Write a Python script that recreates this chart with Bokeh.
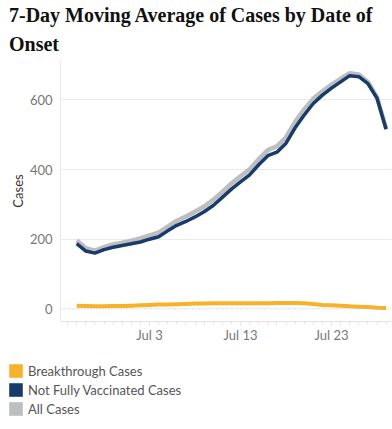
from datetime import datetime, timedelta
from bokeh.plotting import figure
from bokeh.models import (ColumnDataSource, Range1d, FixedTicker, DatetimeTickFormatter,
                          Span, Legend, LegendItem, Title)
from bokeh.embed import file_html
from bokeh.resources import INLINE

# ---- data ----
start_date = datetime(2021, 6, 25)
n_days = 35
dates = [start_date + timedelta(days=i) for i in range(n_days)]
not_fully_vaccinated = [187, 166, 160, 170, 177, 182, 187, 192, 200, 207, 224, 240, 251, 264, 279,
                        297, 320, 344, 365, 385, 414, 440, 450, 476, 520, 557, 590, 614, 634, 652,
                        670, 667, 647, 605, 516]
breakthrough = [9, 8, 7, 7, 8, 8, 9, 10, 11, 12, 12, 13, 14, 15, 15, 16, 16, 16, 16, 16, 16, 16,
                17, 17, 17, 16, 14, 11, 10, 9, 7, 6, 5, 3, 2]
all_cases = [196, 174, 167, 177, 185, 190, 196, 202, 211, 219, 236, 253, 265, 279, 294, 313, 336,
             360, 381, 401, 430, 456, 467, 493, 537, 573, 604, 625, 644, 661, 677, 673, 652, 608, 518]
y_ticks = [0, 200, 400, 600]
x_tick_dates = [datetime(2021, 7, 3), datetime(2021, 7, 13), datetime(2021, 7, 23)]
legend_labels = ["Breakthrough Cases", "Not Fully Vaccinated Cases", "All Cases"]

YELLOW = "#F7B22B"
NAVY = "#173C6B"
GRAY = "#BDBEC0"

src = ColumnDataSource(dict(date=dates, nfv=not_fully_vaccinated, bt=breakthrough, all=all_cases))

ref = datetime(2021, 7, 3)
p = figure(frame_width=331, frame_height=261, output_backend="svg", toolbar_location=None,
           x_axis_type="datetime",
           x_range=Range1d(ref - timedelta(days=9.78), ref + timedelta(days=26.59)),
           y_range=Range1d(-36.5, 713.5),
           min_border_left=0, min_border_right=0, min_border_bottom=0, min_border_top=0,
           margin=(1, 0, 0, 6))
p.outline_line_color = None
p.background_fill_color = "white"
p.border_fill_color = "white"

# titles (added bottom line first)
t2 = Title(text="Onset", align="left", offset=-51.5, text_font="Liberation Serif",
           text_font_size="20px", text_font_style="bold", text_color="#111111", standoff=11)
t1 = Title(text="7-Day Moving Average of Cases by Date of", align="left", offset=-51.5,
           text_font="Liberation Serif", text_font_size="20px", text_font_style="bold",
           text_color="#111111", standoff=0)
p.title = None
p.add_layout(t2, "above")
p.add_layout(t1, "above")

# grid
p.xgrid.visible = False
p.ygrid.ticker = FixedTicker(ticks=y_ticks[1:])
p.ygrid.grid_line_color = "#EBEBEB"
p.ygrid.grid_line_width = 1
zero = Span(location=0, dimension="width", line_color="#B5B5B5", line_width=1, line_dash="1 2")
p.add_layout(zero)

# axes
p.yaxis.ticker = FixedTicker(ticks=y_ticks)
p.yaxis.axis_label = "Cases"
p.yaxis.axis_label_text_font = "Lato"
p.yaxis.axis_label_text_font_size = "13px"
p.yaxis.axis_label_text_font_style = "normal"
p.yaxis.axis_label_text_color = "#333333"
p.yaxis.axis_label_standoff = 1
p.yaxis.major_label_text_font = "Lato"
p.yaxis.major_label_text_font_size = "13px"
p.yaxis.major_label_text_color = "#777777"
p.yaxis.major_label_standoff = 8
p.yaxis.axis_line_color = "#EBEBEB"
p.yaxis.major_tick_line_color = None
p.yaxis.minor_tick_line_color = None
p.yaxis.major_tick_in = 0
p.yaxis.major_tick_out = 0
p.yaxis.minor_tick_in = 0
p.yaxis.minor_tick_out = 0

minor_days = [start_date + timedelta(days=i) for i in range(-2, n_days + 1)]
p.xaxis.ticker = FixedTicker(ticks=[d.timestamp() * 1000 for d in x_tick_dates],
                             minor_ticks=[d.timestamp() * 1000 for d in minor_days])
p.xaxis.formatter = DatetimeTickFormatter(days="%b %-d", months="%b %-d", hours="%b %-d")
p.xaxis.major_label_text_font = "Lato"
p.xaxis.major_label_text_font_size = "13px"
p.xaxis.major_label_text_color = "#777777"
p.xaxis.major_label_standoff = 1
p.xaxis.axis_line_color = "#E3E3E3"
p.xaxis.major_tick_line_color = "#E3E3E3"
p.xaxis.minor_tick_line_color = "#E3E3E3"
p.xaxis.major_tick_in = 0
p.xaxis.major_tick_out = 4
p.xaxis.minor_tick_in = 0
p.xaxis.minor_tick_out = 3

# lines
p.line("date", "all", source=src, line_color=GRAY, line_width=4.5, line_join="round")
p.line("date", "nfv", source=src, line_color=NAVY, line_width=3.5, line_join="round")
p.line("date", "bt", source=src, line_color=YELLOW, line_width=4, line_join="round")

# ---- separate legend figure ----
H2 = 73
lg = figure(width=384, height=H2, output_backend="svg", toolbar_location=None,
            x_range=Range1d(0, 1), y_range=Range1d(0, 1),
            x_axis_location=None, y_axis_location=None,
            min_border_left=0, min_border_right=0, min_border_top=0, min_border_bottom=0)
lg.outline_line_color = None
lg.xgrid.visible = False
lg.ygrid.visible = False
# legend swatch proxies: zero-area quads on the data (nothing visible)
sw = []
for col, c in [("bt", YELLOW), ("nfv", NAVY), ("all", GRAY)]:
    sw.append(lg.quad(left="date", right="date", top=col, bottom=col, source=src,
                      fill_color=c, line_color=None))
legend = Legend(items=[LegendItem(label=l, renderers=[r]) for l, r in zip(legend_labels, sw)],
                location=(7, 1), orientation="vertical",
                glyph_width=17, glyph_height=17, label_height=17, label_standoff=4,
                spacing=2, padding=0, margin=0, border_line_color=None,
                background_fill_alpha=0,
                label_text_font="Lato", label_text_font_size="13px", label_text_color="#555555")
lg.add_layout(legend, "center")

open("out.html", "w").write(file_html([p, lg], INLINE))
